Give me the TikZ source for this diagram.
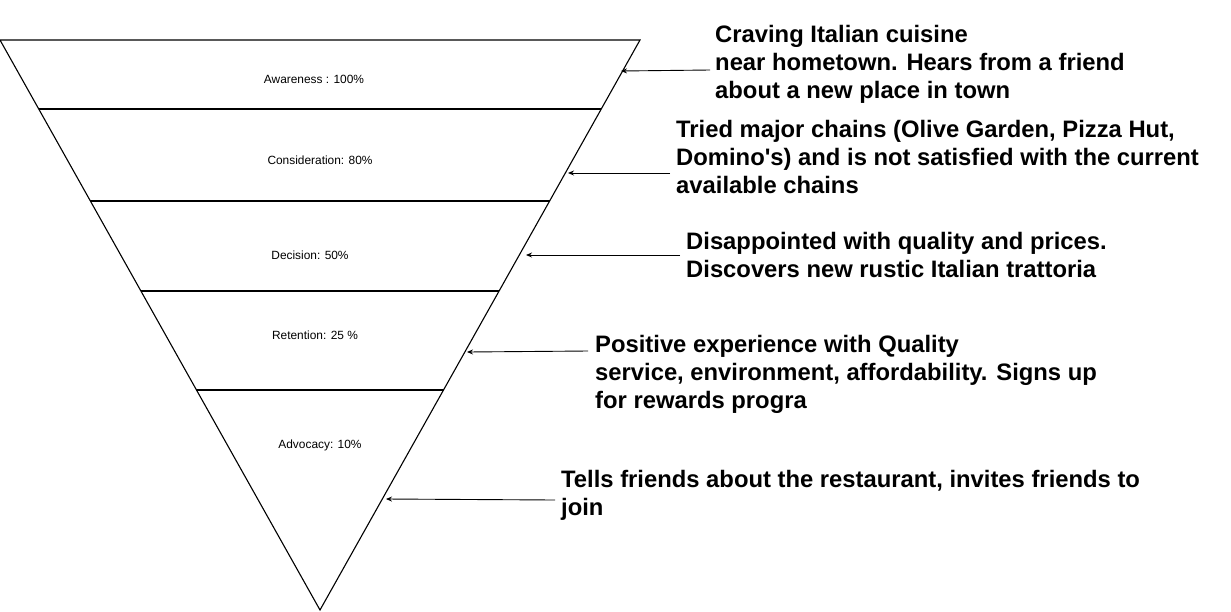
\documentclass[tikz,border=0pt]{standalone}
\usepackage{fontspec}
\setmainfont{Liberation Sans}[Ligatures=TeXOff]
\usetikzlibrary{arrows.meta,calc}

\tikzset{
  edge/.style={line width=1.1pt, black},
  pointer/.style={line width=0.9pt, black, -{Stealth[length=6pt,width=5pt]}},
  stage/.style={font=\fontsize{11.9}{14}\selectfont, inner sep=0pt},
  note/.style={font=\bfseries\fontsize{23.8}{28}\selectfont, align=left,
               anchor=base west, inner sep=0pt}
}

\begin{document}
\begin{tikzpicture}[x=1pt, y=-1pt]
  \useasboundingbox (0,0) rectangle (1231,611);

  % funnel outline
  \coordinate (tl) at (0,40);
  \coordinate (tr) at (640,40);
  \coordinate (tip) at (320,610);
  \draw[edge, line join=miter] (tl) -- (tr) -- (tip) -- cycle;

  % stage dividers
  \foreach \y/\n in {109/d1, 201/d2, 291/d3, 390/d4}{
    \pgfmathsetmacro{\f}{(\y-40)/570}
    \coordinate (\n l) at ($(tl)!\f!(tip)$);
    \coordinate (\n r) at ($(tr)!\f!(tip)$);
    \draw[edge] (\n l) -- (\n r);
  }

  % stage labels
  \node[stage] (aware)   at (314,79)  {Awareness : 100\%};
  \node[stage] (consid)  at (320,160) {Consideration: 80\%};
  \node[stage] (decide)  at (310,255) {Decision: 50\%};
  \node[stage] (retain)  at (315,335) {Retention: 25 \%};
  \node[stage] (advoc)   at (320,445) {Advocacy: 10\%};

  % notes (placed by the baseline of their last line)
  \node[note] (n1) at (715,98)  {Craving Italian cuisine\\near hometown. Hears from a friend\\about a new place in town};
  \node[note] (n2) at (676,193) {Tried major chains (Olive Garden, Pizza Hut,\\Domino's) and is not satisfied with the current\\available chains};
  \node[note] (n3) at (686,277) {Disappointed with quality and prices.\\Discovers new rustic Italian trattoria};
  \node[note] (n4) at (595,408) {Positive experience with Quality\\service, environment, affordability. Signs up\\for rewards progra};
  \node[note] (n5) at (561,515) {Tells friends about the restaurant, invites friends to\\join};

  % pointers from notes to the funnel
  \coordinate (s1) at (710,70);   \coordinate (e1) at (621,71);
  \coordinate (s2) at (670,173);  \coordinate (e2) at (568,173);
  \coordinate (s3) at (680,255);  \coordinate (e3) at (526,255);
  \coordinate (s4) at (588,351);  \coordinate (e4) at (467,352);
  \coordinate (s5) at (555,500);  \coordinate (e5) at (386,499);
  \foreach \i in {1,...,5}{
    \draw[pointer] (s\i) -- (e\i);
  }
\end{tikzpicture}
\end{document}
